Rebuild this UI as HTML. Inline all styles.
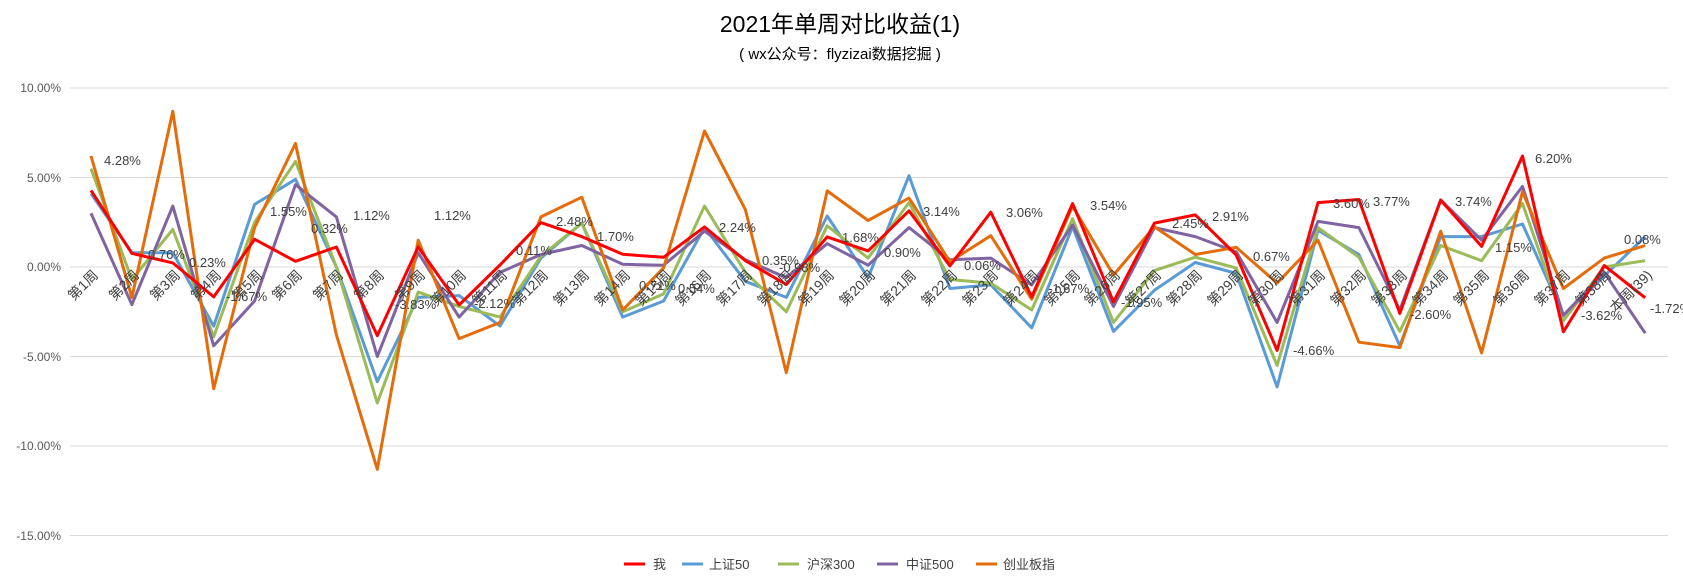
<!DOCTYPE html>
<html><head><meta charset="utf-8"><style>
body{margin:0;background:#fff;}
svg{display:block;font-family:"Liberation Sans","Noto Sans CJK SC",sans-serif;}
.yl{font-size:12px;fill:#595959;text-anchor:end}
.xl{font-size:14px;fill:#404040;text-anchor:end}
.dl{font-size:13px;fill:#404040}
.lg{font-size:13px;fill:#404040}
</style></head><body>
<svg id="s" width="1683" height="578" viewBox="0 0 1683 578">
<text x="840" y="32" text-anchor="middle" font-size="23" fill="#000">2021年单周对比收益(1)</text>
<text x="840" y="59" text-anchor="middle" font-size="15" fill="#000">( wx公众号：flyzizai数据挖掘 )</text>
<g stroke="#d9d9d9" stroke-width="1">
<line x1="70" x2="1668" y1="88" y2="88"/><line x1="70" x2="1668" y1="177.5" y2="177.5"/><line x1="70" x2="1668" y1="267" y2="267"/><line x1="70" x2="1668" y1="356.5" y2="356.5"/><line x1="70" x2="1668" y1="446" y2="446"/><line x1="70" x2="1668" y1="535.5" y2="535.5"/>
</g>
<text class="yl" x="61" y="92">10.00%</text><text class="yl" x="61" y="182">5.00%</text><text class="yl" x="61" y="271">0.00%</text><text class="yl" x="61" y="361">-5.00%</text><text class="yl" x="61" y="450">-10.00%</text><text class="yl" x="61" y="540">-15.00%</text>
<g id="lines" fill="none" stroke-width="3" stroke-linejoin="round"></g>
<g id="xl">
<text class="xl" transform="translate(99,276) rotate(-45)">第1周</text>
<text class="xl" transform="translate(140,276) rotate(-45)">第2周</text>
<text class="xl" transform="translate(181,276) rotate(-45)">第3周</text>
<text class="xl" transform="translate(222,276) rotate(-45)">第4周</text>
<text class="xl" transform="translate(263,276) rotate(-45)">第5周</text>
<text class="xl" transform="translate(303,276) rotate(-45)">第6周</text>
<text class="xl" transform="translate(344,276) rotate(-45)">第7周</text>
<text class="xl" transform="translate(385,276) rotate(-45)">第8周</text>
<text class="xl" transform="translate(426,276) rotate(-45)">第9周</text>
<text class="xl" transform="translate(467,276) rotate(-45)">第10周</text>
<text class="xl" transform="translate(508,276) rotate(-45)">第11周</text>
<text class="xl" transform="translate(549,276) rotate(-45)">第12周</text>
<text class="xl" transform="translate(590,276) rotate(-45)">第13周</text>
<text class="xl" transform="translate(631,276) rotate(-45)">第14周</text>
<text class="xl" transform="translate(672,276) rotate(-45)">第15周</text>
<text class="xl" transform="translate(712,276) rotate(-45)">第16周</text>
<text class="xl" transform="translate(753,276) rotate(-45)">第17周</text>
<text class="xl" transform="translate(794,276) rotate(-45)">第18周</text>
<text class="xl" transform="translate(835,276) rotate(-45)">第19周</text>
<text class="xl" transform="translate(876,276) rotate(-45)">第20周</text>
<text class="xl" transform="translate(917,276) rotate(-45)">第21周</text>
<text class="xl" transform="translate(958,276) rotate(-45)">第22周</text>
<text class="xl" transform="translate(999,276) rotate(-45)">第23周</text>
<text class="xl" transform="translate(1040,276) rotate(-45)">第24周</text>
<text class="xl" transform="translate(1081,276) rotate(-45)">第25周</text>
<text class="xl" transform="translate(1121,276) rotate(-45)">第26周</text>
<text class="xl" transform="translate(1162,276) rotate(-45)">第27周</text>
<text class="xl" transform="translate(1203,276) rotate(-45)">第28周</text>
<text class="xl" transform="translate(1244,276) rotate(-45)">第29周</text>
<text class="xl" transform="translate(1285,276) rotate(-45)">第30周</text>
<text class="xl" transform="translate(1326,276) rotate(-45)">第31周</text>
<text class="xl" transform="translate(1367,276) rotate(-45)">第32周</text>
<text class="xl" transform="translate(1408,276) rotate(-45)">第33周</text>
<text class="xl" transform="translate(1449,276) rotate(-45)">第34周</text>
<text class="xl" transform="translate(1490,276) rotate(-45)">第35周</text>
<text class="xl" transform="translate(1530,276) rotate(-45)">第36周</text>
<text class="xl" transform="translate(1571,276) rotate(-45)">第37周</text>
<text class="xl" transform="translate(1612,276) rotate(-45)">第38周</text>
<text class="xl" transform="translate(1653,276) rotate(-45)">本周(39)</text>
</g>
<g>
<text class="dl" x="104" y="165">4.28%</text>
<text class="dl" x="148" y="259">0.76%</text>
<text class="dl" x="189" y="267">0.23%</text>
<text class="dl" x="226" y="301">-1.67%</text>
<text class="dl" x="270" y="216">1.55%</text>
<text class="dl" x="311" y="233">0.32%</text>
<text class="dl" x="353" y="220">1.12%</text>
<text class="dl" x="395" y="309">-3.83%</text>
<text class="dl" x="434" y="220">1.12%</text>
<text class="dl" x="474" y="308">-2.12%</text>
<text class="dl" x="516" y="255">0.11%</text>
<text class="dl" x="556" y="226">2.48%</text>
<text class="dl" x="597" y="241">1.70%</text>
<text class="dl" x="639" y="290">0.71%</text>
<text class="dl" x="678" y="293">0.54%</text>
<text class="dl" x="719" y="232">2.24%</text>
<text class="dl" x="762" y="265">0.35%</text>
<text class="dl" x="779" y="272">-0.98%</text>
<text class="dl" x="842" y="242">1.68%</text>
<text class="dl" x="884" y="257">0.90%</text>
<text class="dl" x="923" y="216">3.14%</text>
<text class="dl" x="964" y="270">0.06%</text>
<text class="dl" x="1006" y="217">3.06%</text>
<text class="dl" x="1048" y="293">-1.67%</text>
<text class="dl" x="1090" y="210">3.54%</text>
<text class="dl" x="1121" y="307">-1.95%</text>
<text class="dl" x="1172" y="228">2.45%</text>
<text class="dl" x="1212" y="221">2.91%</text>
<text class="dl" x="1253" y="261">0.67%</text>
<text class="dl" x="1293" y="355">-4.66%</text>
<text class="dl" x="1333" y="208">3.60%</text>
<text class="dl" x="1373" y="206">3.77%</text>
<text class="dl" x="1410" y="319">-2.60%</text>
<text class="dl" x="1455" y="206">3.74%</text>
<text class="dl" x="1495" y="252">1.15%</text>
<text class="dl" x="1535" y="163">6.20%</text>
<text class="dl" x="1581" y="320">-3.62%</text>
<text class="dl" x="1624" y="244">0.08%</text>
<text class="dl" x="1650" y="313">-1.72%</text>
</g>
<g stroke-width="3">
<line x1="624" x2="645" y1="564" y2="564" stroke="#ff0000"/><text class="lg" x="653" y="569">我</text>
<line x1="682" x2="703" y1="564" y2="564" stroke="#5b9bd5"/><text class="lg" x="709" y="569">上证50</text>
<line x1="778" x2="799" y1="564" y2="564" stroke="#9bbb59"/><text class="lg" x="807" y="569">沪深300</text>
<line x1="877" x2="898" y1="564" y2="564" stroke="#8064a2"/><text class="lg" x="906" y="569">中证500</text>
<line x1="976" x2="997" y1="564" y2="564" stroke="#e46c0a"/><text class="lg" x="1003" y="569">创业板指</text>
</g>
</svg>
<script>
var S={
"#5b9bd5":[4.1,0.8,0.8,-3.3,3.5,4.9,0,-6.4,-1.7,-1.6,-3.3,0.5,2.45,-2.8,-1.9,2.2,-0.8,-1.7,2.85,-0.6,5.1,-1.2,-1.0,-3.4,2.25,-3.6,-1.3,0.25,-0.35,-6.7,2.05,0.7,-4.4,1.7,1.7,2.4,-2.7,-0.5,1.7],
"#9bbb59":[5.5,-0.7,2.1,-3.9,2.5,5.9,0,-7.6,-1.4,-2.2,-2.8,0.6,2.45,-2.5,-1.5,3.4,-0.3,-2.5,2.3,0.5,3.6,-0.7,-0.9,-2.4,2.7,-3.1,-0.2,0.55,-0.05,-5.5,2.2,0.55,-3.6,1.2,0.35,3.55,-3.0,0,0.35],
"#8064a2":[3.0,-2.1,3.4,-4.4,-1.9,4.6,2.8,-5.0,0.8,-2.8,-0.3,0.7,1.2,0.15,0.1,2.0,0.4,-0.6,1.3,0.1,2.2,0.4,0.5,-1.0,2.35,-2.2,2.2,1.7,0.85,-3.1,2.55,2.2,-2.4,3.75,1.5,4.5,-2.7,-0.3,-3.7],
"#e46c0a":[6.2,-1.7,8.7,-6.8,2.2,6.9,-3.8,-11.3,1.5,-4.0,-3.1,2.8,3.9,-2.4,-0.05,7.6,3.2,-5.9,4.25,2.6,3.85,0.3,1.75,-1.8,3.4,-0.45,2.25,0.7,1.1,-0.9,1.5,-4.2,-4.5,2.0,-4.8,4.2,-1.2,0.5,1.2],
"#ff0000":[4.28,0.76,0.23,-1.67,1.55,0.32,1.12,-3.83,1.12,-2.12,0.11,2.48,1.70,0.71,0.54,2.24,0.35,-0.98,1.68,0.90,3.14,0.06,3.06,-1.67,3.54,-1.95,2.45,2.91,0.67,-4.66,3.60,3.77,-2.60,3.74,1.15,6.20,-3.62,0.08,-1.72]};
var g=document.getElementById('lines'),h='';
for(var c in S){var p=S[c].map(function(v,i){return (91+40.9*i).toFixed(1)+','+(267-v*17.9).toFixed(1)}).join(' ');
h+='<polyline stroke="'+c+'" points="'+p+'"/>';}
g.innerHTML=h;
</script>
</body></html>
